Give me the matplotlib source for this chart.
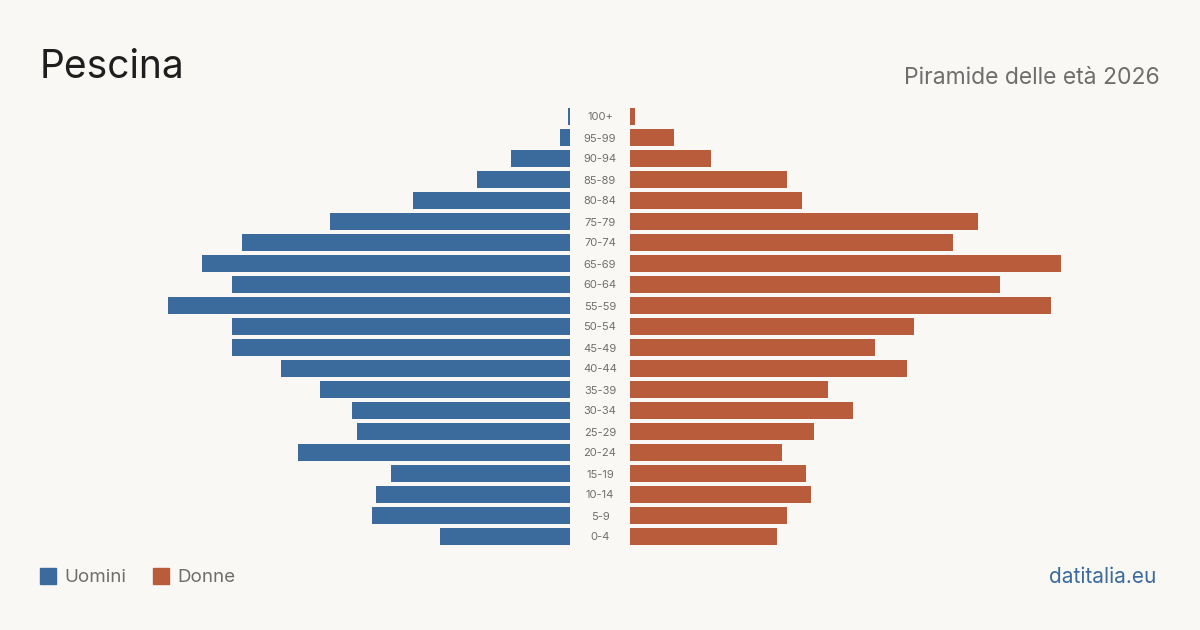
import matplotlib.pyplot as plt
from matplotlib.patches import Rectangle

eta = ['0-4', '5-9', '10-14', '15-19', '20-24', '25-29', '30-34', '35-39',
       '40-44', '45-49', '50-54', '55-59', '60-64', '65-69', '70-74',
       '75-79', '80-84', '85-89', '90-94', '95-99', '100+']
uomini = [53, 81, 79, 73, 111, 87, 89, 102, 118, 138, 138, 164, 138, 150,
          134, 98, 64, 38, 24, 4, 1]
donne = [60, 64, 74, 72, 62, 75, 91, 81, 113, 100, 116, 172, 151, 176,
         132, 142, 70, 64, 33, 18, 2]

blu = '#3b6b9c'
arancio = '#b85c3c'
sfondo = '#f9f8f4'
grigio = '#6e6e6e'

W, H = 1200, 630
fig = plt.figure(figsize=(12, 6.3), dpi=100, facecolor=sfondo)

scala = 2.45  # pixel per persona
top, bottom = 106, 547
ax_l = fig.add_axes([40 / W, 1 - bottom / H, 530 / W, (bottom - top) / H])
ax_r = fig.add_axes([630 / W, 1 - bottom / H, 530 / W, (bottom - top) / H])

y = list(range(len(eta)))
ax_l.barh(y, uomini, height=0.8, color=blu)
ax_r.barh(y, donne, height=0.8, color=arancio)
lim = 530 / scala
ax_l.set_xlim(lim, 0)
ax_r.set_xlim(0, lim)
for ax in (ax_l, ax_r):
    ax.set_ylim(-0.5, len(eta) - 0.5)
    ax.axis('off')

for i, lab in enumerate(eta):
    yy = 1 - (bottom + 1 - (i + 0.5) * 21) / H
    fig.text(600 / W, yy, lab, ha='center', va='center', fontsize=8,
             color=grigio, family='Inter')

fig.text(40 / W, 1 - 68 / H, 'Pescina', fontsize=28, color='#1e1e1e',
         family='Inter', va='center', ha='left')
fig.text(1160 / W, 1 - 78 / H, 'Piramide delle età 2026', fontsize=16.5,
         color=grigio, family='Inter', va='center', ha='right')

fig.patches.append(Rectangle((40 / W, 1 - 584 / H), 16 / W, 16 / H,
                             transform=fig.transFigure, color=blu))
fig.text(64 / W, 1 - 577 / H, 'Uomini', fontsize=13.5, color=grigio,
         family='Inter', va='center', ha='left')
fig.patches.append(Rectangle((153 / W, 1 - 584 / H), 16 / W, 16 / H,
                             transform=fig.transFigure, color=arancio))
fig.text(177 / W, 1 - 577 / H, 'Donne', fontsize=13.5, color=grigio,
         family='Inter', va='center', ha='left')

fig.text(1156 / W, 1 - 577 / H, 'datitalia.eu', fontsize=15, color=blu,
         family='Inter', va='center', ha='right')

fig.savefig('out.png', dpi=100, facecolor=sfondo)
